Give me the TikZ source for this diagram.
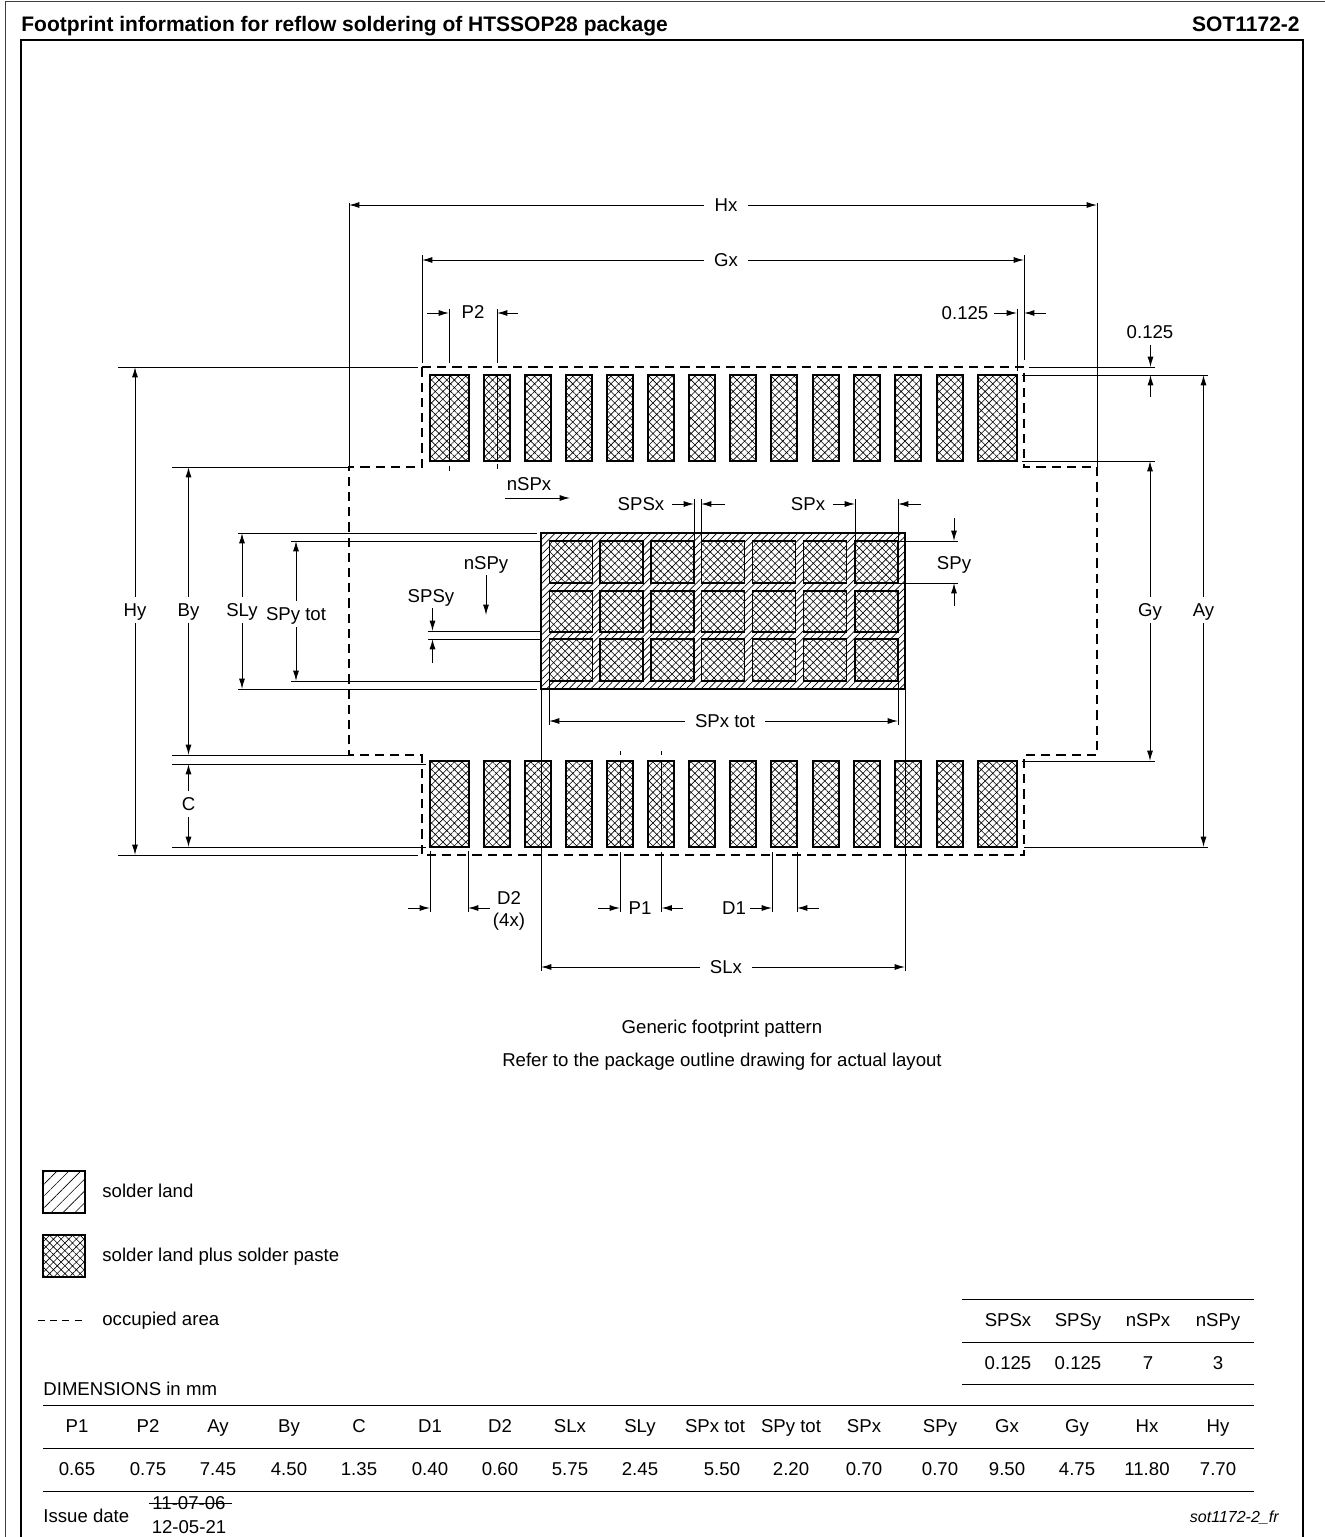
\documentclass[tikz,border=0pt]{standalone}
\usepackage{fontspec}
\setmainfont{Liberation Sans}
\usetikzlibrary{arrows.meta,patterns.meta}
\tikzset{
  dimline/.style={line width=0.5pt},
  dimarrow/.style={line width=0.5pt,-{Latex[length=5.2pt,width=3pt]}},
  occupied/.style={line width=0.7pt,dash pattern=on 4.6pt off 3pt},
  lbl/.style={font=\fontsize{9.3pt}{11pt}\selectfont,text height=6.6pt,text depth=0pt,inner sep=0pt},
  headlbl/.style={font=\fontsize{10.5pt}{12pt}\selectfont\bfseries,text height=7.5pt,text depth=0pt,inner sep=0pt},
  dimlbl/.style={lbl,inner xsep=5pt,inner ysep=3pt},
  paste/.style={line width=0.9pt,fill=white,postaction={pattern={Hatch[angle=45,distance=2.7pt,line width=0.3pt]},pattern color=black}},
  land/.style={line width=1pt,fill=white,postaction={pattern={Lines[angle=45,distance=2.6pt,line width=0.35pt]},pattern color=black}},
  landkey/.style={line width=0.8pt,fill=white,postaction={pattern={Lines[angle=45,distance=4.2pt,line width=0.3pt]},pattern color=black}},
  rulel/.style={line width=0.5pt},
}
\begin{document}
\begin{tikzpicture}[x=0.5pt,y=-0.5pt]
\useasboundingbox (0,0) rectangle (1325,1537);
% frame
\draw[line width=0.5pt,black!75] (5.5,1537) -- (5.5,1.5) -- (1325,1.5);
\draw[line width=1pt] (21,1537) -- (21,39.5) -- (1303,39.5) -- (1303,1537);
\node[headlbl,anchor=west] (title) at (21,24) {Footprint information for reflow soldering of HTSSOP28 package};
\node[headlbl,anchor=east] (sot) at (1300,24) {SOT1172-2};
% outer lands
\foreach \x in {497,538,579,620,661,702,743,784,826,867,908,950} {
\draw[paste] (\x-13,375) rectangle (\x+13,461);
\draw[paste] (\x-13,761) rectangle (\x+13,847);
}
\foreach \x in {449.5,997.5} {
\draw[paste] (\x-19.5,375) rectangle (\x+19.5,461);
\draw[paste] (\x-19.5,761) rectangle (\x+19.5,847);
}
% centre land
\draw[land] (541,533) rectangle (905,689);
\foreach \x in {571,621.5,672.5,723,774,825,876.5} {
\foreach \y/\yb in {541/583,591/632,639/681} {
\draw[paste] (\x-21.5,\y) rectangle (\x+21.5,\yb);
}
}
% occupied area
\draw[occupied] (422,367) -- (1024,367) -- (1024,467) -- (1097,467) -- (1097,755) -- (1024,755) -- (1024,855) -- (422,855) -- (422,755) -- (349,755) -- (349,467) -- (422,467) -- cycle;
% horizontal dimensions, top
\draw[dimline] (349,203) -- (349,467);
\draw[dimline] (1097,203) -- (1097,467);
\node[dimlbl] (hx) at (726,205) {Hx};
\draw[dimarrow] (hx) -- (349,205);
\draw[dimarrow] (hx) -- (1097,205);
\draw[dimline] (422,255) -- (422,363);
\draw[dimline] (1024,255) -- (1024,360);
\node[dimlbl] (gx) at (726,260) {Gx};
\draw[dimarrow] (gx) -- (422,260);
\draw[dimarrow] (gx) -- (1024,260);
\draw[dimline] (449,309) -- (449,363) (449,375) -- (449,461) (449,466) -- (449,471);
\draw[dimline] (497,309) -- (497,363) (497,375) -- (497,461) (497,464) -- (497,469);
\node[lbl] (ptwo) at (473,312) {P2};
\draw[dimarrow] (427,313) -- (449,313);
\draw[dimarrow] (518,313) -- (497,313);
\draw[dimline] (1017,309) -- (1017,371);
\node[lbl] (gapx) at (965,313) {0.125};
\draw[dimarrow] (994,313) -- (1017,313);
\draw[dimarrow] (1046,313) -- (1024,313);
% thermal pad top
\node[lbl] (nspx) at (529,484) {nSPx};
\draw[dimarrow] (505,498) -- (570,498);
\node[lbl] (spsx) at (641,504) {SPSx};
\draw[dimline] (694,499) -- (694,541);
\draw[dimline] (701,499) -- (701,541);
\draw[dimarrow] (672,504) -- (694,504);
\draw[dimarrow] (725,504) -- (701,504);
\node[lbl] (spx) at (808,504) {SPx};
\draw[dimline] (855,499) -- (855,541);
\draw[dimline] (898,499) -- (898,541);
\draw[dimarrow] (833,504) -- (855,504);
\draw[dimarrow] (921,504) -- (898,504);
\draw[dimline] (898,541) -- (958,541);
\draw[dimline] (898,583) -- (958,583);
\node[lbl] (spy) at (954,563) {SPy};
\draw[dimarrow] (954,518) -- (954,541);
\draw[dimarrow] (954,606) -- (954,583);
% right side
\draw[dimline] (1029,367) -- (1155,367);
\draw[dimline] (1022,375) -- (1208,375);
\draw[dimline] (1022,461) -- (1155,461);
\draw[dimline] (1022,761) -- (1155,761);
\draw[dimline] (1024,847) -- (1208,847);
\node[lbl] (gapy) at (1150,332) {0.125};
\draw[dimarrow] (1150.5,345) -- (1150.5,367);
\draw[dimarrow] (1150.5,397) -- (1150.5,375);
\node[dimlbl] (gy) at (1150,610) {Gy};
\draw[dimarrow] (gy) -- (1150,461);
\draw[dimarrow] (gy) -- (1150,761);
\node[dimlbl] (ay) at (1203.5,610) {Ay};
\draw[dimarrow] (ay) -- (1203.5,375);
\draw[dimarrow] (ay) -- (1203.5,847);
% left side
\draw[dimline] (118,367) -- (418,367);
\draw[dimline] (118,855) -- (418,855);
\draw[dimline] (172,467) -- (349,467);
\draw[dimline] (172,755) -- (349,755);
\draw[dimline] (172,764) -- (426,764);
\draw[dimline] (172,847) -- (426,847);
\draw[dimline] (238,533) -- (537,533);
\draw[dimline] (238,689) -- (537,689);
\draw[dimline] (291,541) -- (541,541);
\draw[dimline] (291,681) -- (541,681);
\draw[dimline] (428,631) -- (541,631);
\draw[dimline] (428,639) -- (541,639);
\node[dimlbl] (hy) at (135,610) {Hy};
\draw[dimarrow] (hy) -- (135,367);
\draw[dimarrow] (hy) -- (135,855);
\node[dimlbl] (by) at (188.5,610) {By};
\draw[dimarrow] (by) -- (188.5,467);
\draw[dimarrow] (by) -- (188.5,755);
\node[dimlbl] (cc) at (188.5,804) {C};
\draw[dimarrow] (cc) -- (188.5,764);
\draw[dimarrow] (cc) -- (188.5,847);
\node[dimlbl] (sly) at (242,610) {SLy};
\draw[dimarrow] (sly) -- (242,533);
\draw[dimarrow] (sly) -- (242,689);
\node[dimlbl] (spytot) at (296,614) {SPy tot};
\draw[dimarrow] (spytot) -- (296,541);
\draw[dimarrow] (spytot) -- (296,681);
\node[lbl] (spsy) at (431,596) {SPSy};
\draw[dimarrow] (432.5,608) -- (432.5,631);
\draw[dimarrow] (432.5,663) -- (432.5,639);
\node[lbl] (nspy) at (486,563) {nSPy};
\draw[dimarrow] (486,575) -- (486,615);
% bottom
\draw[dimline] (549,681) -- (549,725);
\draw[dimline] (898,681) -- (898,725);
\node[dimlbl] (spxtot) at (725,721) {SPx tot};
\draw[dimarrow] (spxtot) -- (549,721);
\draw[dimarrow] (spxtot) -- (898,721);
\draw[dimline] (541,689) -- (541,971);
\draw[dimline] (905,689) -- (905,971);
\node[dimlbl] (slx) at (726,967) {SLx};
\draw[dimarrow] (slx) -- (541,967);
\draw[dimarrow] (slx) -- (905,967);
\draw[dimline] (620,751) -- (620,755) (620,761) -- (620,847) (620,852) -- (620,912);
\draw[dimline] (661.5,751) -- (661.5,755) (661.5,761) -- (661.5,847) (661.5,852) -- (661.5,912);
\node[lbl] (pone) at (640,908) {P1};
\draw[dimarrow] (598,908) -- (620,908);
\draw[dimarrow] (683,908) -- (661.5,908);
\draw[dimline] (430,851) -- (430,912);
\draw[dimline] (468,851) -- (468,912);
\node[lbl] (dtwo) at (509,898) {D2};
\node[lbl] (dtwon) at (509,920) {(4x)};
\draw[dimarrow] (408,908) -- (430,908);
\draw[dimarrow] (490,908) -- (468,908);
\draw[dimline] (772,852) -- (772,912);
\draw[dimline] (797,852) -- (797,912);
\node[lbl] (done) at (734,908) {D1};
\draw[dimarrow] (750,908) -- (772,908);
\draw[dimarrow] (819,908) -- (797,908);
% caption
\node[lbl] (generic) at (722,1027) {Generic footprint pattern};
\node[lbl] (refer) at (722,1060) {Refer to the package outline drawing for actual layout};
% key
\draw[landkey] (43,1171) rectangle (85,1213);
\node[lbl,anchor=west] (keyland) at (102,1191) {solder land};
\draw[paste] (43,1235) rectangle (85,1277);
\node[lbl,anchor=west] (keypaste) at (102,1255) {solder land plus solder paste};
\draw[line width=0.5pt,dash pattern=on 3.5pt off 2.6pt] (38,1320) -- (85,1320);
\node[lbl,anchor=west] (keyocc) at (102,1319) {occupied area};
% small table
\foreach \y in {1299.5,1342,1384.5} {
\draw[rulel] (962,\y) -- (1254,\y);
}
\foreach \x/\a/\b in {1008/SPSx/0.125,1078/SPSy/0.125,1148/nSPx/7,1218/nSPy/3} {
\node[lbl] at (\x,1320) {\a};
\node[lbl] at (\x,1363) {\b};
}
% main table
\node[lbl,anchor=west] (dims) at (43,1389) {DIMENSIONS in mm};
\foreach \y in {1405,1448,1491} {
\draw[rulel] (43,\y) -- (1254,\y);
}
\foreach \x/\a in {77/P1,148/P2,218/Ay,289/By,359/C,430/D1,500/D2,570/SLx,640/SLy,715/SPx tot,791/SPy tot,864/SPx,940/SPy,1007/Gx,1077/Gy,1147/Hx,1218/Hy} {
\node[lbl] at (\x,1426) {\a};
}
\foreach \x/\b in {77/0.65,148/0.75,218/7.45,289/4.50,359/1.35,430/0.40,500/0.60,570/5.75,640/2.45,722/5.50,791/2.20,864/0.70,940/0.70,1007/9.50,1077/4.75,1147/11.80,1218/7.70} {
\node[lbl] at (\x,1469) {\b};
}
% issue
\node[lbl,anchor=west] (issue) at (43,1516) {Issue date};
\node[lbl] (dateold) at (189,1503) {11-07-06};
\draw[dimline] (149,1503) -- (232,1503);
\node[lbl] (datenew) at (189,1527) {12-05-21};
\node[lbl,anchor=east,font=\fontsize{8pt}{10pt}\selectfont\itshape] (code) at (1279,1516) {sot1172-2\_fr};
\end{tikzpicture}
\end{document}
